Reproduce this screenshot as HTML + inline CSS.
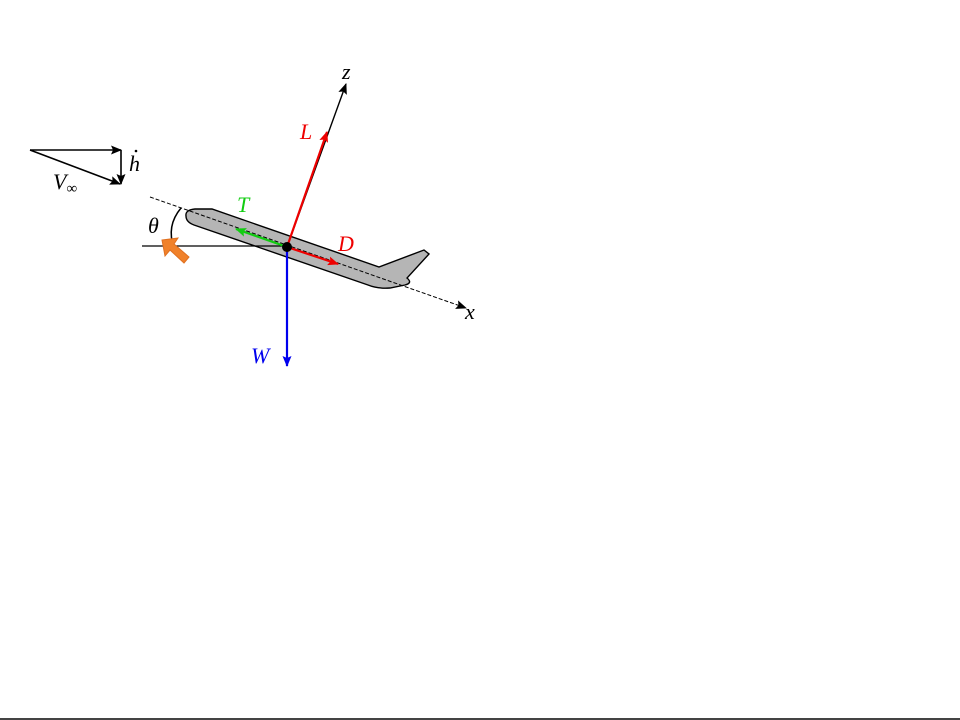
<!DOCTYPE html>
<html><head><meta charset="utf-8"><style>
body{margin:0;background:#fff;width:960px;height:720px;overflow:hidden}
svg{display:block}
text{font-family:"Liberation Serif",serif;font-style:italic}
</style></head><body>
<svg width="960" height="720">
<defs>
<marker id="ak" markerWidth="11" markerHeight="9" refX="10" refY="4.5" orient="auto" markerUnits="userSpaceOnUse"><path d="M0,0 L11,4.5 L0,9 L2,4.5z" fill="#000"/></marker>
<marker id="ar" markerWidth="11" markerHeight="9" refX="10" refY="4.5" orient="auto" markerUnits="userSpaceOnUse"><path d="M0,0 L11,4.5 L0,9 L2,4.5z" fill="#e00"/></marker>
<marker id="ag" markerWidth="11" markerHeight="9" refX="10" refY="4.5" orient="auto" markerUnits="userSpaceOnUse"><path d="M0,0 L11,4.5 L0,9 L2,4.5z" fill="#1c1"/></marker>
<marker id="ab" markerWidth="11" markerHeight="9" refX="10" refY="4.5" orient="auto" markerUnits="userSpaceOnUse"><path d="M0,0 L11,4.5 L0,9 L2,4.5z" fill="#00e"/></marker>
</defs>
<g>
<line x1="30" y1="150" x2="121" y2="150" stroke="#000" stroke-width="1.6" marker-end="url(#ak)"/>
<line x1="121" y1="150" x2="121" y2="184" stroke="#000" stroke-width="1.6" marker-end="url(#ak)"/>
<line x1="30" y1="150" x2="120" y2="184" stroke="#000" stroke-width="1.6" marker-end="url(#ak)"/>
<text x="129" y="171" font-size="22">h</text>
<circle cx="136" cy="151" r="1.3" fill="#000"/>
<text x="53" y="189" font-size="22">V<tspan font-size="15" dy="4" font-style="normal">∞</tspan></text>
</g>
<g>
<path d="M186,216 Q185,210 195,209 L212,209 L379,267 L424,250 L429,254 L407,278 Q413,283 405,285 L390,288 Q378,289 368,285 L194,225 Q186,222 186,216z" fill="#b5b5b5" stroke="#000" stroke-width="1.4"/>
</g>
<line x1="150" y1="197" x2="466" y2="308" stroke="#000" stroke-width="1" stroke-dasharray="4,2" marker-end="url(#ak)"/>
<text x="465" y="319" font-size="22">x</text>
<line x1="287" y1="247" x2="346" y2="84" stroke="#000" stroke-width="1.4" marker-end="url(#ak)"/>
<text x="342" y="79" font-size="22">z</text>
<line x1="142" y1="246" x2="287" y2="246" stroke="#000" stroke-width="1.2"/>
<path d="M181,208 Q166,226 174,248" fill="none" stroke="#000" stroke-width="1.5"/>
<text x="148" y="233" font-size="22">θ</text>
<line x1="287" y1="247" x2="327" y2="132" stroke="#e00" stroke-width="2.2" marker-end="url(#ar)"/>
<text x="300" y="139" font-size="22" fill="#e00">L</text>
<line x1="287" y1="247" x2="236" y2="229" stroke="#1c1" stroke-width="2.2" marker-end="url(#ag)"/>
<text x="237" y="212" font-size="22" fill="#1c1">T</text>
<line x1="287" y1="247" x2="338" y2="264" stroke="#e00" stroke-width="2.2" marker-end="url(#ar)"/>
<text x="338" y="251" font-size="22" fill="#e00">D</text>
<line x1="287" y1="247" x2="287" y2="366" stroke="#00e" stroke-width="2.2" marker-end="url(#ab)"/>
<text x="251" y="363" font-size="22" fill="#00e">W</text>
<circle cx="287" cy="247" r="5" fill="#000"/>
<path d="M162,240 L178,238 L174,244 L189,257 L184,263 L170,250 L165,256z" fill="#f0812a" stroke="#e07020" stroke-width="1"/>
<rect x="0" y="718" width="960" height="2" fill="#444"/>
</svg>
</body></html>
